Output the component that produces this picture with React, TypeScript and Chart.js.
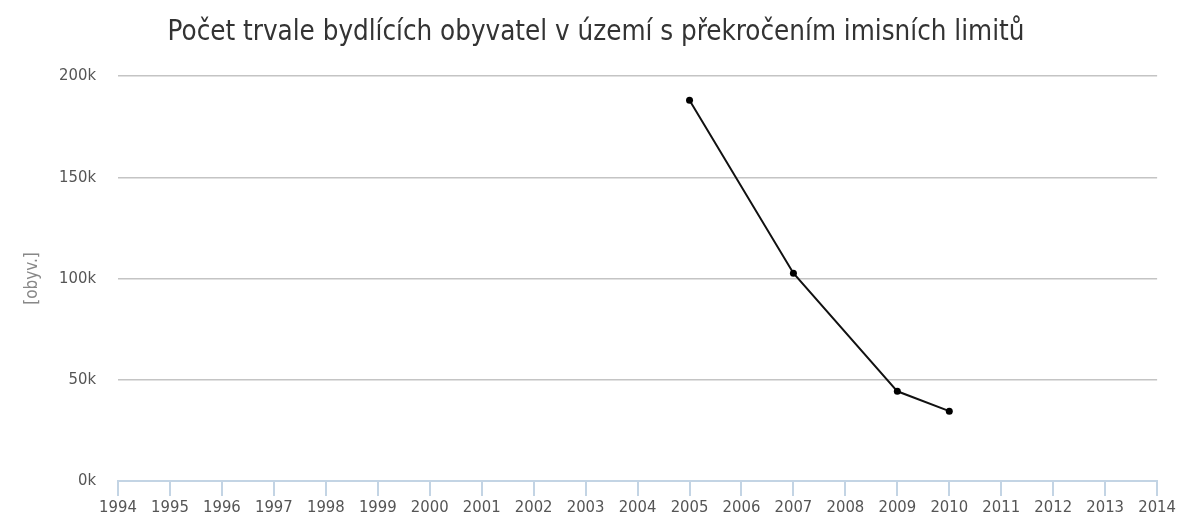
import React, { useEffect, useRef } from "react";
import { Chart, registerables } from "chart.js";

Chart.register(...registerables);

const years: string[] = [
  "1994", "1995", "1996", "1997", "1998", "1999", "2000", "2001", "2002", "2003", "2004",
  "2005", "2006", "2007", "2008", "2009", "2010", "2011", "2012", "2013", "2014",
];
const residents: (number | null)[] = [
  null, null, null, null, null, null, null, null, null, null, null,
  188000, null, 102600, null, 44300, 34500, null, null, null, null,
];
const chartTitle = "Počet trvale bydlících obyvatel v území s překročením imisních limitů";
const yTitle = "[obyv.]";

const FONT = "'DejaVu Sans Condensed', Tahoma, sans-serif";

const yTitlePlugin = {
  id: "yTitlePlugin",
  afterDraw(chart: any) {
    const { ctx, chartArea } = chart;
    ctx.save();
    ctx.translate(33, (chartArea.top + chartArea.bottom) / 2);
    ctx.rotate(-Math.PI / 2);
    ctx.font = `17px ${FONT}`;
    ctx.fillStyle = "#888";
    ctx.textAlign = "center";
    ctx.textBaseline = "middle";
    ctx.fillText(yTitle, 0, 0);
    ctx.restore();
  },
};

export default function App() {
  const ref = useRef<HTMLCanvasElement | null>(null);
  useEffect(() => {
    if (!ref.current) return;
    const chart = new Chart(ref.current, {
      type: "line",
      data: {
        labels: years,
        datasets: [
          {
            data: residents,
            borderColor: "#111",
            backgroundColor: "#111",
            borderWidth: 2,
            pointRadius: 3.5,
            pointBackgroundColor: "#000",
            pointBorderWidth: 0,
            spanGaps: true,
            tension: 0,
          },
        ],
      },
      plugins: [yTitlePlugin],
      options: {
        responsive: false,
        animation: false,
        layout: { padding: { left: 18, right: 5, top: 12, bottom: 0 } },
        plugins: {
          legend: { display: false },
          tooltip: { enabled: false },
          title: {
            display: true,
            text: chartTitle,
            color: "#333",
            font: { family: FONT, size: 27.5, weight: "normal" },
            padding: { top: 4, bottom: 27 },
          },
        },
        scales: {
          x: {
            afterFit: (scale: any) => {
              scale.height = 35;
            },
            grid: {
              display: true,
              drawOnChartArea: false,
              drawTicks: true,
              tickLength: 15,
              color: "#c3d4e4",
              lineWidth: 2,
            },
            border: { display: true, color: "#c3d4e4", width: 2 },
            ticks: {
              color: "#555",
              font: { family: FONT, size: 16.5, lineHeight: 1 },
              padding: 3,
              maxRotation: 0,
              autoSkip: false,
            },
          },
          y: {
            min: 0,
            max: 200000,
            afterFit: (scale: any) => {
              scale.width = 100;
            },
            grid: { color: "#c4c4c4", lineWidth: 1.5, drawTicks: false },
            border: { display: false },
            ticks: {
              stepSize: 50000,
              color: "#555",
              font: { family: FONT, size: 16.5 },
              padding: 22,
              callback: (v: any) => `${Number(v) / 1000}k`,
            },
          },
        },
      },
    });
    return () => chart.destroy();
  }, []);
  return (
    <div style={{ position: "fixed", left: 0, top: 0, width: 1179, height: 516, background: "#fff" }}>
      <canvas ref={ref} width={1179} height={516} style={{ width: 1179, height: 516 }} />
    </div>
  );
}
